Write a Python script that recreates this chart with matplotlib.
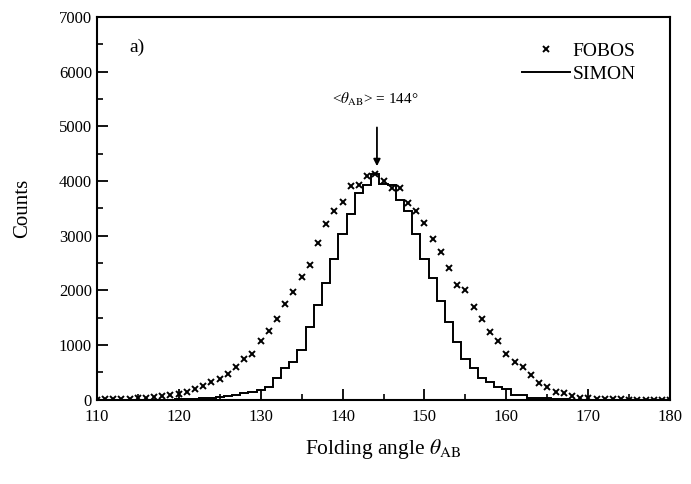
import numpy as np
import matplotlib
matplotlib.use('Agg')
import matplotlib.pyplot as plt
from matplotlib.ticker import MultipleLocator

plt.rcParams['font.family'] = ['Liberation Serif', 'DejaVu Serif']
plt.rcParams['mathtext.fontset'] = 'stix'

# folding angle bins (deg), 1 degree wide
angle = np.arange(110, 181)

# FOBOS measured counts (crosses)
fobos = [5, 8, 10, 15, 20, 30, 40, 50, 65, 80,
         100, 140, 190, 250, 320, 380, 470, 600, 740, 840,
         1080, 1260, 1470, 1760, 1970, 2240, 2470, 2865, 3210, 3455,
         3610, 3915, 3921, 4085, 4121, 4005, 3873, 3873, 3600, 3450,
         3230, 2939, 2703, 2418, 2100, 2000, 1697, 1485, 1236, 1079,
         836, 690, 594, 445, 310, 236, 140, 115, 67, 40,
         25, 15, 10, 8, 6, 5, 4, 3, 3, 2, 2]

# SIMON simulation counts (histogram)
simon = [0, 0, 0, 0, 0, 2, 2, 3, 4, 5,
         8, 12, 18, 28, 40, 55, 75, 95, 115, 140,
         180, 240, 394, 576, 697, 909, 1330, 1735, 2130, 2580,
         3030, 3400, 3780, 3930, 4130, 3950, 3920, 3660, 3460, 3030,
         2580, 2220, 1800, 1424, 1061, 740, 576, 394, 320, 235,
         200, 90, 90, 40, 35, 25, 15, 10, 5, 3,
         2, 0, 0, 0, 0, 0, 0, 0, 0, 0, 0]

fig = plt.figure(figsize=(6.91, 4.84), dpi=100)
ax = fig.add_axes([0.140, 0.174, 0.830, 0.791])

edges = np.append(angle - 0.5, angle[-1] + 0.5)
ax.stairs(simon, edges, color='black', linewidth=1.4, label='SIMON')
ax.plot(angle, fobos, linestyle='none', marker='x', color='black',
        markersize=5, markeredgewidth=1.4, label='FOBOS')

ax.set_xlim(110, 180)
ax.set_ylim(0, 7000)
ax.xaxis.set_major_locator(MultipleLocator(10))
ax.xaxis.set_minor_locator(MultipleLocator(5))
ax.yaxis.set_major_locator(MultipleLocator(1000))
ax.yaxis.set_minor_locator(MultipleLocator(500))
ax.tick_params(which='both', direction='in', top=False, right=False, labelsize=12)
ax.tick_params(axis='x', which='both', pad=6.5)
ax.tick_params(which='major', length=8, width=1.3)
ax.tick_params(which='minor', length=4, width=1.2)
for s in ax.spines.values():
    s.set_linewidth(1.5)

ax.set_xlabel(r'Folding angle $\theta_{\rm AB}$', fontsize=15.5, labelpad=9)
ax.set_ylabel('Counts', fontsize=15, labelpad=19)

ax.text(114, 6450, 'a)', fontsize=14, va='center')

ax.annotate('', xy=(144.2, 4220), xytext=(144.2, 5030),
            arrowprops=dict(arrowstyle='-|>', color='black', lw=1.3,
                            mutation_scale=10))
ax.text(144, 5500, r'<$\theta_{\rm AB}$> = 144°', fontsize=11,
        ha='center', va='center')

h, l = ax.get_legend_handles_labels()
ax.legend(h[::-1], l[::-1], loc='upper right', frameon=False, fontsize=14,
          handlelength=2.5, handletextpad=0.1, labelspacing=0.3,
          bbox_to_anchor=(0.97, 0.98))

fig.savefig('out.png', dpi=100)
